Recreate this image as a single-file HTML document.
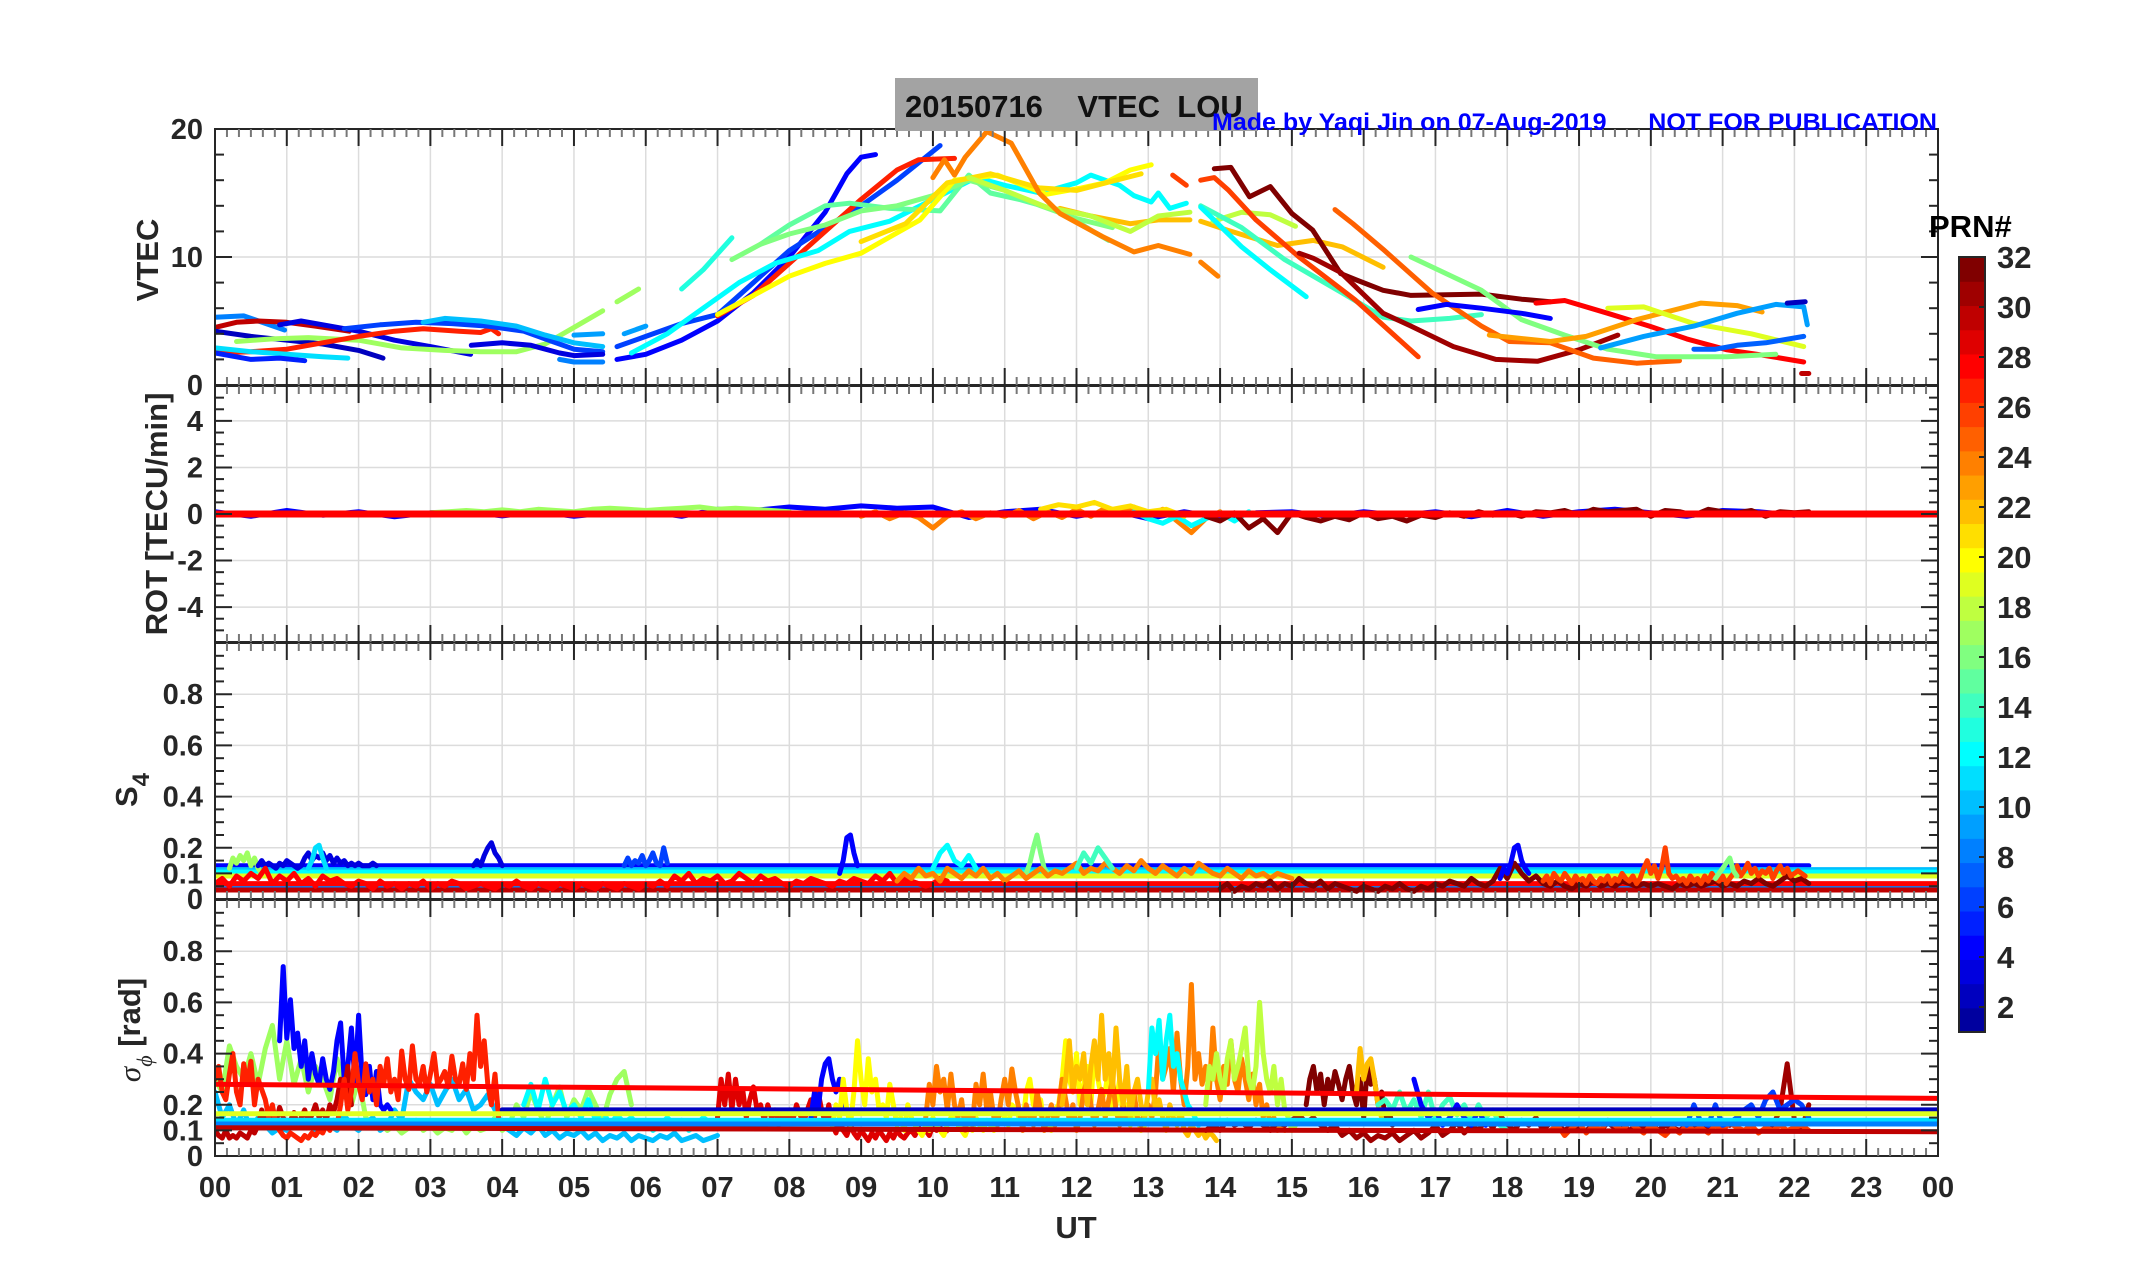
<!DOCTYPE html>
<html><head><meta charset="utf-8"><style>
html,body{margin:0;padding:0;background:#fff;}
svg{display:block;}
.tk{font-family:"Liberation Sans Narrow","Liberation Sans",sans-serif;font-weight:bold;font-size:29px;fill:#262626;}
.cb{font-family:"Liberation Sans",sans-serif;font-weight:bold;font-size:31px;fill:#262626;}
.al{font-family:"Liberation Sans",sans-serif;font-weight:bold;font-size:31px;fill:#262626;}
</style></head><body>
<svg id="fig" width="2153" height="1286" viewBox="0 0 2153 1286" xmlns="http://www.w3.org/2000/svg">
<rect width="2153" height="1286" fill="#fff"/>
<defs>
<clipPath id="cV"><rect x="215" y="129" width="1723" height="256"/></clipPath>
<clipPath id="cR"><rect x="215" y="386" width="1723" height="256"/></clipPath>
<clipPath id="cS"><rect x="215" y="643" width="1723" height="256"/></clipPath>
<clipPath id="cP"><rect x="215" y="900" width="1723" height="256"/></clipPath>
</defs>
<g id="grid"></g>
<g id="marks"></g>
<g id="axes"></g>
<rect x="895" y="78" width="363" height="53" fill="#a3a3a3"/>
<text x="905" y="117" font-family="Liberation Sans Narrow, Liberation Sans, sans-serif" font-weight="bold" font-size="31" fill="#111" xml:space="preserve">20150716    VTEC  LOU</text>
<text x="1212" y="130" font-family="Liberation Sans Narrow, Liberation Sans, sans-serif" font-weight="bold" font-size="24" fill="#0000ff" textLength="725" lengthAdjust="spacingAndGlyphs" xml:space="preserve">Made by Yaqi Jin on 07-Aug-2019      NOT FOR PUBLICATION</text>
<text class="al" transform="translate(158,260) rotate(-90)" text-anchor="middle">VTEC</text>
<text class="al" transform="translate(167,514) rotate(-90)" text-anchor="middle">ROT [TECU/min]</text>
<text class="al" transform="translate(137,790) rotate(-90)" text-anchor="middle">S<tspan font-size="24" dy="12">4</tspan></text>
<text class="al" transform="translate(140,1030) rotate(-90)" text-anchor="middle"><tspan font-family="Liberation Serif, serif" font-style="italic" font-weight="normal">σ</tspan><tspan font-family="Liberation Serif, serif" font-style="italic" font-weight="normal" font-size="22" dy="12">ϕ</tspan><tspan dy="-12"> [rad]</tspan></text>
<text class="al" x="1076" y="1238" text-anchor="middle">UT</text>
<text x="1929" y="237" font-family="Liberation Sans, sans-serif" font-weight="bold" font-size="31" fill="#000">PRN#</text>
<g id="cbar"></g>
</svg>
<script>
const NS='http://www.w3.org/2000/svg';
const X0=215,X1=1938;
function xS(h){return X0+h*(X1-X0)/24;}
function yV(v){return 385-v*12.8;}
function yR(v){return 514-v*23.27;}
function yS(v){return 899-v*256;}
function yP(v){return 1156-v*256;}
function jet(m){const n=Math.ceil(m/4);const u=[];for(let i=1;i<=n;i++)u.push(i/n);for(let i=1;i<n;i++)u.push(1);for(let i=n;i>=1;i--)u.push(i/n);
 const R=new Array(m).fill(0),G=new Array(m).fill(0),B=new Array(m).fill(0);const off=Math.ceil(n/2)-(m%4==1?1:0);
 for(let i=0;i<u.length;i++){const g=off+i+1,r=g+n,b=g-n;if(g<=m)G[g-1]=u[i];if(r<=m)R[r-1]=u[i];if(b>=1)B[b-1]=u[i];}
 const c=[];for(let i=0;i<m;i++)c.push('rgb('+Math.round(R[i]*255)+','+Math.round(G[i]*255)+','+Math.round(B[i]*255)+')');return c;}
const JET=jet(32);
function col(p){return JET[p-1];}
function mk(tag,attrs,parent){const e=document.createElementNS(NS,tag);for(const k in attrs)e.setAttribute(k,attrs[k]);parent.appendChild(e);return e;}

const vtecPrns=[8,30,3,2,17,17,27,11,5,6,10,3,8,9,9,4,6,27,12,13,15,16,20,21,22,22,18,18,24,24,14,12,26,26,32,28,31,25,16,4,23,19,9,7,30,2];
const vtecSeries=[
[[0,5.3],[0.4,5.4],[0.97,4.3]],
[[0,4.5],[0.3,4.9],[0.6,5.0],[1.0,4.9],[1.4,4.6],[1.87,4.2]],
[[0.9,4.7],[1.2,5.0],[1.6,4.6],[2.0,4.2],[2.5,3.5],[3.0,3.0],[3.56,2.4]],
[[0,4.2],[0.5,3.8],[1.0,3.5],[1.5,3.2],[2.0,2.7],[2.34,2.1]],
[[0.3,3.4],[0.8,3.6],[1.3,3.7],[2.0,3.5],[2.6,2.9],[3.2,2.7],[3.7,2.6],[4.2,2.6],[4.6,3.2],[5.0,4.5],[5.4,5.8]],
[[5.6,6.5],[5.9,7.5]],
[[0,2.5],[0.5,2.6],[1.0,2.8],[1.5,3.3],[2.0,3.8],[2.5,4.2],[2.9,4.4],[3.4,4.2],[3.7,4.1],[3.85,4.4],[3.95,4.0]],
[[0,2.9],[0.5,2.6],[1.0,2.4],[1.5,2.2],[1.85,2.1]],
[[0,2.5],[0.5,2.0],[0.9,2.1],[1.25,1.9]],
[[1.8,4.4],[2.3,4.7],[2.8,4.9],[3.3,4.8],[3.8,4.6],[4.3,4.2],[4.7,3.4],[5.0,2.8],[5.4,2.6]],
[[2.9,4.9],[3.2,5.2],[3.7,5.0],[4.2,4.6],[4.6,3.9],[5.0,3.3],[5.4,3.0]],
[[3.57,3.1],[4.0,3.3],[4.4,3.1],[4.8,2.5],[5.0,2.3],[5.4,2.4]],
[[4.8,2.0],[5.0,1.8],[5.4,1.8]],
[[5.0,3.9],[5.4,4.0]],
[[5.7,4.0],[6.0,4.6]],
[[5.6,2.0],[6.0,2.4],[6.5,3.5],[7.0,5.0],[7.5,7.2],[8.0,10.0],[8.5,13.5],[8.8,16.5],[9.0,17.8],[9.2,18.0]],
[[5.6,3.0],[6.0,3.8],[6.5,4.8],[7.0,5.5],[7.5,8],[8.0,10.5],[8.5,12.3],[9.0,14.0],[9.5,16.0],[10.1,18.7]],
[[7.0,5.4],[7.5,7.0],[8.0,9.5],[8.5,12.0],[9.0,14.5],[9.5,16.8],[9.8,17.6],[10.3,17.7]],
[[5.8,2.5],[6.3,4.0],[6.8,6.0],[7.3,8.0],[7.8,9.5],[8.4,10.5],[8.84,12.0],[9.4,12.8],[10.0,14.5],[10.6,16.2],[11.0,15.6],[11.5,15.0],[12.0,15.8],[12.2,16.4],[12.6,15.6],[12.8,14.8],[13.04,14.3],[13.14,15.0],[13.3,13.8],[13.53,14.2]],
[[6.5,7.5],[6.8,9.0],[7.2,11.5]],
[[7.6,11.0],[8.0,12.5],[8.5,14.0],[8.84,14.2],[9.4,13.8],[10.1,13.6],[10.5,16.4],[10.8,15.0],[11.2,14.5],[11.77,13.6],[12.26,11.9],[12.45,11.3]],
[[7.2,9.8],[7.6,11.0],[8.0,11.8],[8.5,12.5],[9.0,13.6],[9.5,14.0],[10.0,14.8],[10.5,16.0],[11.0,15.2],[11.5,14.0],[12.0,13.0],[12.5,12.3]],
[[7.0,5.5],[7.5,7.0],[8.0,8.5],[8.5,9.5],[9.0,10.3],[9.82,12.9],[10.3,16.0],[10.9,16.4],[11.58,14.9],[12.07,15.4],[12.4,15.8],[12.75,16.8],[13.04,17.2]],
[[9.0,11.2],[9.62,12.6],[10.2,15.8],[10.8,16.5],[11.48,15.4],[12.0,15.2],[12.55,16.0],[12.9,16.5]],
[[11.77,13.8],[12.2,13.2],[12.75,12.6],[13.14,12.9],[13.58,12.9]],
[[13.73,12.8],[14.1,12.1],[14.8,10.9],[15.3,11.3],[15.7,10.8],[16.27,9.2]],
[[10.5,16.2],[11.0,15.2],[11.58,13.9],[12.2,13.2],[12.75,12.0],[13.14,13.2],[13.58,13.5]],
[[13.9,12.8],[14.3,13.5],[14.7,13.3],[15.05,12.4]],
[[10.0,16.2],[10.16,17.6],[10.3,16.4],[10.45,17.8],[10.75,19.8],[11.09,18.9],[11.48,15.0],[11.77,13.4],[12.36,11.6],[12.8,10.4],[13.14,10.9],[13.58,10.2]],
[[13.73,9.6],[13.97,8.5]],
[[13.73,14.0],[14.3,12.3],[14.9,9.8],[15.7,7.2],[16.27,5.3],[16.66,5.0],[17.2,5.2],[17.64,5.5]],
[[13.73,13.9],[14.3,10.8],[14.7,9.0],[15.2,6.9]],
[[13.34,16.4],[13.53,15.6]],
[[13.73,16.0],[13.92,16.2],[14.12,15.2],[14.5,12.9],[15.1,10.0],[15.88,6.65],[16.76,2.2]],
[[13.92,16.9],[14.15,17.0],[14.41,14.7],[14.7,15.5],[15.0,13.4],[15.29,12.1],[15.68,8.7],[15.9,8.2],[16.27,7.4],[16.66,7.0],[17.64,7.1],[18.2,6.7],[18.6,6.5]],
[[18.4,6.4],[18.8,6.6],[19.4,5.6],[19.98,4.6],[20.5,3.6],[21.06,2.75],[21.6,2.3],[22.13,1.8]],
[[15.1,10.3],[15.3,9.9],[15.68,8.8],[16.27,5.6],[16.66,4.6],[17.25,3.0],[17.84,2.0],[18.42,1.85],[19.0,2.75],[19.54,3.9]],
[[15.6,13.7],[15.85,12.6],[16.27,10.6],[16.95,7.2],[17.64,4.6],[18.03,3.4],[18.6,3.3],[19.2,2.1],[19.8,1.7],[20.4,1.9]],
[[16.66,10.0],[17.15,8.7],[17.64,7.4],[18.2,5.1],[18.8,3.9],[19.4,2.8],[20.08,2.2],[21.06,2.2],[21.74,2.4]],
[[16.76,5.9],[17.15,6.3],[17.64,6.0],[18.2,5.6],[18.6,5.2]],
[[17.75,3.9],[18.6,3.4],[19.1,3.8],[19.8,5.1],[20.7,6.4],[21.2,6.2],[21.55,5.7]],
[[19.4,6.0],[19.9,6.1],[20.6,4.8],[21.4,4.0],[22.13,3.0]],
[[19.3,2.9],[19.9,3.8],[20.6,4.6],[21.2,5.6],[21.74,6.3],[22.13,6.1],[22.18,4.7]],
[[20.6,2.8],[20.9,2.8],[21.2,3.1],[21.6,3.3],[22.13,3.8]],
[[22.1,0.9],[22.2,0.9]],
[[21.9,6.4],[22.15,6.5]]
];

const rotFlatPrns=[28];
const rotFlatVals=[[0,0]];
const rotPrns=[4,17,24,12,21,32];
const rotStarts=[0,3,9,12.8,11.5,13.8];
const rotSteps=[0.5,0.25,0.2,0.2,0.25,0.2];
const rotVals=[
[0.1,-0.1,0.15,-0.05,0.1,-0.12,0.05,0.1,-0.08,0.1,-0.1,0.05,0.12,-0.1,0.2,0.15,0.3,0.2,0.35,0.25,0.3,-0.15,0.1,0.2,-0.1,0.15,-0.2,0.1,-0.15,0.05,0.1,-0.1,0.1,-0.05,0.1,-0.12,0.15,-0.1,0.1,0.2,0.05,-0.1,0.15,0.1,-0.05],
[0.05,0.1,0.15,0.1,0.18,0.1,0.2,0.15,0.1,0.2,0.25,0.2,0.15,0.2,0.25,0.3,0.2,0.25,0.2,0.15,0.1],
[-0.1,0.1,-0.2,0.05,-0.15,-0.6,-0.1,0.1,-0.2,0.05,-0.1,0.15,-0.2,0.1,-0.15,0.2,-0.1,0.25,0.1,0.3,-0.1,0.2,-0.3,-0.8,-0.2,0.1],
[0.1,-0.2,-0.4,-0.1,-0.5,-0.2,0.05,-0.3,0.1],
[0.2,0.4,0.3,0.5,0.2,0.35,0.1,0.2,-0.1],
[-0.1,-0.3,0.05,-0.6,-0.2,-0.8,0.05,-0.15,-0.3,-0.1,-0.25,0.05,-0.2,-0.1,-0.3,-0.05,-0.15,0.05,-0.1,0.1,-0.05,0.05,-0.1,0.1,0.05,0.15,-0.05,0.2,0.1,0.15,0.2,-0.1,0.15,0.1,-0.05,0.2,0.1,0.05,0.15,-0.1,0.1,0.05,0.1]
];

const s4FlatPrns=[4,10,12,19,8,28,30];
const s4FlatFrom=[0,0,0,0,0,0,0];
const s4FlatTo=[22.2,24,24,24,24,24,24];
const s4FlatVals=[0.13,0.115,0.105,0.09,0.045,0.06,0.035];
const s4Prns=[17,3,11,3,28,4,16,6,24,12,14,32,26,4,16];
const s4Starts=[0.2,0.6,1.3,3.6,0,8.7,11.3,5.7,9.5,10.0,12.0,14.0,18.5,17.9,20.9];
const s4Steps=[0.05,0.05,0.05,0.05,0.1,0.05,0.05,0.05,0.1,0.1,0.1,0.1,0.05,0.05,0.05];
const s4Vals=[
[0.12,0.16,0.14,0.17,0.15,0.18,0.13,0.16,0.12,0.1],
[0.13,0.15,0.13,0.14,0.13,0.12,0.14,0.13,0.15,0.14,0.13,0.12,0.13,0.16,0.18,0.15,0.17,0.16,0.18,0.15,0.17,0.14,0.16,0.14,0.15,0.13,0.14,0.13,0.14,0.13,0.13,0.13,0.14,0.13],
[0.12,0.15,0.2,0.21,0.16,0.12],
[0.13,0.15,0.13,0.17,0.2,0.22,0.18,0.16,0.13],
[0.06,0.08,0.05,0.09,0.07,0.1,0.08,0.12,0.06,0.09,0.07,0.1,0.06,0.08,0.05,0.09,0.07,0.08,0.06,0.05,0.07,0.06,0.04,0.07,0.05,0.06,0.04,0.06,0.05,0.07,0.04,0.06,0.05,0.07,0.06,0.04,0.05,0.06,0.05,0.04,0.06,0.05,0.07,0.05,0.04,0.06,0.05,0.04,0.06,0.05,0.04,0.06,0.05,0.04,0.06,0.05,0.04,0.06,0.05,0.04,0.06,0.05,0.07,0.05,0.09,0.07,0.1,0.06,0.08,0.07,0.09,0.06,0.07,0.1,0.08,0.06,0.09,0.07,0.08,0.06,0.05,0.07,0.06,0.08,0.07,0.06,0.05,0.07,0.06,0.08,0.07,0.06,0.09,0.07,0.1,0.06,0.08,0.07,0.06,0.05,0.06,0.08,0.07],
[0.1,0.15,0.24,0.25,0.18,0.13],
[0.1,0.14,0.2,0.25,0.18,0.12,0.1],
[0.13,0.16,0.13,0.15,0.14,0.17,0.13,0.15,0.18,0.14,0.13,0.2,0.14],
[0.07,0.1,0.08,0.12,0.09,0.1,0.07,0.12,0.1,0.08,0.11,0.09,0.12,0.08,0.1,0.07,0.09,0.11,0.08,0.1,0.12,0.09,0.11,0.1,0.12,0.14,0.1,0.12,0.11,0.14,0.12,0.1,0.13,0.11,0.15,0.12,0.1,0.13,0.11,0.09,0.12,0.1,0.14,0.12,0.1,0.09,0.12,0.1,0.08,0.11,0.09,0.1,0.08,0.1,0.09,0.08],
[0.12,0.18,0.21,0.15,0.13,0.17,0.12],
[0.12,0.18,0.14,0.2,0.16,0.12],
[0.04,0.06,0.03,0.05,0.04,0.06,0.05,0.07,0.04,0.06,0.05,0.08,0.06,0.05,0.07,0.04,0.06,0.05,0.04,0.03,0.05,0.04,0.03,0.05,0.04,0.06,0.04,0.03,0.05,0.04,0.06,0.05,0.07,0.06,0.05,0.08,0.06,0.05,0.07,0.12,0.08,0.14,0.1,0.07,0.09,0.06,0.05,0.07,0.05,0.04,0.06,0.05,0.07,0.05,0.06,0.05,0.07,0.06,0.05,0.06,0.05,0.06,0.05,0.04,0.06,0.05,0.06,0.05,0.06,0.07,0.05,0.06,0.05,0.07,0.06,0.08,0.06,0.05,0.07,0.09,0.07,0.08,0.06],
[0.07,0.09,0.06,0.1,0.08,0.07,0.1,0.08,0.06,0.09,0.07,0.08,0.06,0.09,0.07,0.06,0.08,0.07,0.09,0.06,0.08,0.07,0.1,0.08,0.07,0.09,0.06,0.08,0.12,0.15,0.1,0.13,0.08,0.12,0.2,0.1,0.08,0.09,0.07,0.08,0.06,0.09,0.07,0.08,0.06,0.09,0.07,0.1,0.08,0.07,0.09,0.06,0.08,0.1,0.13,0.09,0.11,0.14,0.1,0.12,0.09,0.11,0.1,0.12,0.08,0.11,0.13,0.1,0.12,0.09,0.1,0.11,0.1,0.09],
[0.08,0.12,0.1,0.14,0.2,0.21,0.15,0.12,0.1],
[0.08,0.1,0.12,0.14,0.16,0.11,0.09]
];

const sigFlatPrns=[2,19,11,8,30,28];
const sigFlatFrom=[4,0,0,0,0,0];
const sigFlatTo=[24,24,24,24,24,24];
const sigFlatStartVals=[0.18,0.165,0.14,0.125,0.11,0.28];
const sigFlatEndVals=[0.18,0.165,0.14,0.125,0.095,0.225];
const sigPrns=[10,17,4,30,12,29,4,20,24,22,12,18,32,31,22,14,4,26,6,27];
const sigStarts=[0,0,0.9,0,4.3,7.0,8.3,8.6,9.9,11.8,13.0,13.8,15.2,13.8,15.9,16.2,16.7,18.6,20.5,0];
const sigSteps=[0.1,0.1,0.05,0.05,0.1,0.05,0.05,0.05,0.05,0.05,0.05,0.05,0.05,0.1,0.05,0.1,0.1,0.1,0.1,0.05];
const sigVals=[
[0.25,0.15,0.2,0.12,0.18,0.1,0.15,0.12,0.09,0.11,0.1,0.14,0.12,0.15,0.1,0.13,0.12,0.1,0.16,0.12,0.1,0.13,0.15,0.1,0.12,0.18,0.14,0.3,0.25,0.22,0.28,0.2,0.25,0.3,0.22,0.26,0.18,0.2,0.24,0.18,0.12,0.1,0.08,0.11,0.09,0.12,0.08,0.1,0.07,0.09,0.08,0.1,0.07,0.09,0.06,0.08,0.07,0.09,0.06,0.08,0.07,0.06,0.08,0.07,0.09,0.06,0.07,0.08,0.06,0.07,0.08],
[0.3,0.25,0.43,0.35,0.3,0.4,0.28,0.42,0.51,0.3,0.45,0.28,0.38,0.25,0.35,0.3,0.22,0.38,0.26,0.2,0.3,0.15,0.12,0.13,0.1,0.12,0.09,0.11,0.14,0.1,0.12,0.09,0.11,0.1,0.13,0.09,0.12,0.1,0.11,0.15,0.1,0.12,0.2,0.15,0.25,0.18,0.12,0.2,0.27,0.15,0.22,0.18,0.26,0.2,0.14,0.24,0.3,0.33,0.2],
[0.45,0.74,0.46,0.61,0.42,0.48,0.35,0.45,0.3,0.4,0.32,0.28,0.38,0.3,0.26,0.33,0.45,0.52,0.3,0.35,0.5,0.28,0.55,0.3,0.24,0.35,0.22,0.33,0.2,0.18,0.2,0.18],
[0.1,0.08,0.07,0.1,0.07,0.08,0.07,0.09,0.08,0.07,0.1,0.09,0.12,0.18,0.14,0.12,0.16,0.13,0.19,0.15,0.12,0.14,0.17,0.12,0.15,0.18,0.13,0.16,0.2,0.15,0.18,0.14,0.2,0.17,0.22,0.3,0.25,0.35,0.2],
[0.2,0.28,0.18,0.3,0.2,0.25,0.17,0.2,0.15,0.22,0.14,0.18,0.12,0.16,0.13,0.15,0.12,0.14,0.1,0.12,0.15,0.12,0.14,0.1,0.12,0.15,0.13],
[0.15,0.3,0.2,0.32,0.18,0.3,0.2,0.26,0.15,0.22,0.27,0.18,0.2,0.14,0.2,0.15,0.18,0.12,0.16,0.13,0.18,0.14,0.2,0.16,0.13,0.18,0.22,0.15,0.25,0.18,0.13,0.2,0.12,0.09,0.14,0.1,0.08,0.12,0.09,0.07,0.1,0.08,0.06,0.09,0.07,0.1,0.08,0.06,0.09,0.07,0.1,0.08,0.07,0.09,0.1,0.08,0.11,0.09,0.1,0.08,0.12,0.1,0.11,0.09,0.1],
[0.15,0.25,0.18,0.3,0.36,0.38,0.3,0.25,0.3,0.22,0.18,0.15],
[0.12,0.2,0.15,0.3,0.18,0.12,0.25,0.45,0.3,0.2,0.38,0.25,0.3,0.18,0.2,0.15,0.28,0.2,0.12,0.15,0.1,0.2,0.15,0.12,0.1,0.08,0.12,0.1,0.15,0.12,0.1,0.08,0.12,0.15,0.18,0.12,0.1,0.08,0.12,0.1,0.15,0.12,0.1,0.14,0.12,0.1,0.14,0.18,0.15,0.12,0.2,0.18,0.15,0.12,0.25,0.3,0.2,0.18,0.22,0.12,0.15,0.1,0.18,0.2,0.3,0.45,0.3,0.25,0.4,0.2,0.28,0.35,0.2,0.42,0.3,0.22,0.25,0.35,0.18,0.2,0.3,0.15,0.2,0.12,0.18,0.15,0.1,0.12],
[0.15,0.28,0.2,0.35,0.25,0.3,0.18,0.32,0.2,0.15,0.22,0.1,0.18,0.12,0.28,0.2,0.32,0.18,0.25,0.15,0.12,0.22,0.3,0.2,0.34,0.25,0.18,0.1,0.2,0.15,0.12,0.25,0.18,0.1,0.15,0.2,0.12,0.18,0.3,0.22,0.14,0.2,0.1,0.15,0.25,0.3,0.2,0.12,0.18,0.26,0.15,0.22,0.3,0.18,0.12,0.2,0.14,0.18,0.25,0.15,0.12,0.18,0.2,0.15,0.25,0.45,0.3,0.35,0.42,0.25,0.48,0.3,0.2,0.35,0.67,0.3,0.4,0.28,0.35,0.25,0.5,0.3,0.22,0.35,0.28,0.45,0.3,0.25,0.38,0.3,0.22,0.32,0.2,0.28,0.15,0.2,0.12,0.15,0.1,0.12,0.1],
[0.2,0.3,0.45,0.25,0.35,0.3,0.4,0.2,0.35,0.45,0.3,0.55,0.3,0.4,0.25,0.5,0.3,0.2,0.35,0.15,0.25,0.3,0.2,0.15,0.25,0.3,0.18,0.22,0.15,0.1,0.2,0.15,0.12,0.18,0.1,0.08,0.12,0.1,0.08,0.1,0.07,0.09,0.08,0.06],
[0.25,0.5,0.4,0.53,0.3,0.45,0.55,0.35,0.4,0.3,0.25,0.2,0.18,0.15,0.12],
[0.2,0.35,0.3,0.4,0.3,0.25,0.38,0.45,0.3,0.35,0.42,0.5,0.3,0.25,0.35,0.6,0.4,0.3,0.25,0.35,0.2,0.3,0.18,0.15,0.1,0.12],
[0.2,0.3,0.35,0.25,0.32,0.2,0.3,0.25,0.33,0.28,0.22,0.3,0.35,0.25,0.2,0.3,0.15,0.35,0.28,0.3,0.2,0.25,0.15,0.18,0.12],
[0.1,0.12,0.1,0.14,0.12,0.13,0.11,0.14,0.12,0.1,0.13,0.12,0.14,0.16,0.13,0.15,0.12,0.1,0.12,0.08,0.1,0.07,0.09,0.06,0.08,0.07,0.09,0.06,0.08,0.1,0.07,0.09,0.12,0.08,0.1,0.13,0.09,0.12,0.1,0.14,0.11,0.16,0.12,0.1,0.14,0.12,0.15,0.1,0.13,0.12,0.1,0.12,0.11,0.1,0.12,0.1,0.13,0.11,0.12,0.1,0.12,0.11,0.13,0.1,0.12,0.11,0.1,0.12,0.11,0.13,0.1,0.12,0.14,0.12,0.15,0.13,0.12,0.14,0.13,0.12,0.18,0.36,0.14,0.1,0.2],
[0.25,0.42,0.3,0.36,0.38,0.3,0.2,0.15],
[0.2,0.22,0.18,0.25,0.17,0.22,0.15,0.25,0.14,0.2,0.23,0.16,0.2,0.14,0.2,0.15,0.18,0.12,0.1],
[0.3,0.2,0.15,0.18,0.12,0.15,0.2,0.15,0.12,0.18,0.12],
[0.1,0.12,0.08,0.11,0.13,0.09,0.12,0.1,0.14,0.12,0.1,0.13,0.11,0.09,0.12,0.1,0.08,0.11,0.09,0.12,0.1,0.11,0.09,0.12,0.1,0.13,0.11,0.1,0.12,0.09,0.11,0.1,0.12,0.1,0.11,0.12,0.1],
[0.12,0.2,0.13,0.12,0.2,0.12,0.13,0.15,0.18,0.2,0.15,0.22,0.25,0.18,0.2,0.22,0.2,0.15],
[0.3,0.35,0.25,0.22,0.32,0.4,0.25,0.2,0.36,0.28,0.37,0.2,0.3,0.26,0.22,0.15,0.2,0.12,0.1,0.08,0.07,0.09,0.08,0.07,0.06,0.08,0.07,0.09,0.08,0.1,0.09,0.12,0.1,0.14,0.12,0.2,0.3,0.18,0.25,0.4,0.28,0.22,0.36,0.25,0.3,0.2,0.35,0.28,0.38,0.25,0.3,0.22,0.41,0.3,0.26,0.43,0.3,0.28,0.35,0.25,0.32,0.4,0.28,0.3,0.33,0.27,0.39,0.3,0.28,0.36,0.26,0.4,0.3,0.55,0.35,0.45,0.28,0.2,0.32,0.15]
];

const xTickLabels=['00','01','02','03','04','05','06','07','08','09','10','11','12','13','14','15','16','17','18','19','20','21','22','23','00'];
const vtecTicks=[0,10,20];
const rotTicks=[-4,-2,0,2,4];
const s4Ticks=[0,0.1,0.2,0.4,0.6,0.8];
const sigTicks=[0,0.1,0.2,0.4,0.6,0.8];
const cbTicks=[2,4,6,8,10,12,14,16,18,20,22,24,26,28,30,32];

const grid=document.getElementById('grid'),marks=document.getElementById('marks'),axes=document.getElementById('axes');
const panels=[
 {name:'vtec',top:129,bot:385,y:yV,ticks:vtecTicks,minor:2,min:0,max:20,clip:'cV',lab:v=>String(v)},
 {name:'rot',top:386,bot:642,y:yR,ticks:rotTicks,minor:0.5,min:-5.5,max:5.5,clip:'cR',lab:v=>String(v)},
 {name:'s4',top:643,bot:899,y:yS,ticks:s4Ticks,minor:0.05,min:0,max:1,clip:'cS',lab:v=>String(v)},
 {name:'sigma',top:900,bot:1156,y:yP,ticks:sigTicks,minor:0.05,min:0,max:1,clip:'cP',lab:v=>String(v)}
];
panels.forEach(p=>{
 const g=mk('g',{},grid);
 
 
 for(let h=1;h<24;h++)mk('line',{x1:xS(h),x2:xS(h),y1:p.top,y2:p.bot,stroke:'#dcdcdc','stroke-width':1.5},g);
 p.ticks.forEach(v=>{if(v>p.min&&v<p.max)mk('line',{x1:X0,x2:X1,y1:p.y(v),y2:p.y(v),stroke:'#dcdcdc','stroke-width':1.5},g);});
 const a=mk('g',{},axes);
 
 
 mk('rect',{x:X0,y:p.top,width:X1-X0,height:p.bot-p.top,fill:'none',stroke:'#262626','stroke-width':2},a);
 for(let i=0;i<=144;i++){const h=i/6,x=xS(h),L=(i%6==0)?17:8,c=(i%6==0)?'#262626':'#777';
  mk('line',{x1:x,x2:x,y1:p.top,y2:p.top+L,stroke:c,'stroke-width':2},a);
  mk('line',{x1:x,x2:x,y1:p.bot,y2:p.bot-L,stroke:c,'stroke-width':2},a);}
 for(let v=p.min;v<=p.max+1e-9;v+=p.minor){const y=p.y(v);if(y<p.top-0.5||y>p.bot+0.5)continue;
  const maj=p.ticks.some(t=>Math.abs(t-v)<1e-6);const L=maj?17:9;
  mk('line',{x1:X0,x2:X0+L,y1:y,y2:y,stroke:'#262626','stroke-width':2},a);
  mk('line',{x1:X1,x2:X1-L,y1:y,y2:y,stroke:'#262626','stroke-width':2},a);}
 p.ticks.forEach(v=>{const t=mk('text',{x:203,y:p.y(v)+10,'text-anchor':'end',class:'tk'},a);t.textContent=p.lab(v);
  
  });
});
xTickLabels.forEach((s,i)=>{const t=mk('text',{x:xS(i),y:1197,'text-anchor':'middle',class:'tk'},axes);t.textContent=s;
 
 });

function poly(pts,p,clip,w,parent){const d=pts.map(q=>q[0].toFixed(1)+','+q[1].toFixed(1)).join(' ');
 const e=mk('polyline',{points:d,fill:'none',stroke:col(p),'stroke-width':w,'stroke-linejoin':'round','stroke-linecap':'round','clip-path':'url(#'+clip+')'},parent);return e;}

const gV=mk('g',{},marks);


vtecSeries.forEach((s,i)=>{const e=poly(s.map(q=>[xS(q[0]),yV(q[1])]),vtecPrns[i],'cV',5,gV);
 
 });

function noisy(prns,starts,steps,vals,yf,clip,w,parent,nm){
 vals.forEach((arr,i)=>{const pts=arr.map((v,j)=>[xS(starts[i]+j*steps[i]),yf(v)]);const e=poly(pts,prns[i],clip,w,parent);
  
  });}
const gR=mk('g',{},marks);


noisy(rotPrns,rotStarts,rotSteps,rotVals,yR,'cR',5,gR,'rot-line');
rotFlatPrns.forEach((p,i)=>{const e=poly([[xS(0),yR(rotFlatVals[i][0])],[xS(24),yR(rotFlatVals[i][1])]],p,'cR',7,gR);
 
 });
const gS=mk('g',{},marks);


s4FlatPrns.forEach((p,i)=>{const e=poly([[xS(s4FlatFrom[i]),yS(s4FlatVals[i])],[xS(s4FlatTo[i]),yS(s4FlatVals[i])]],p,'cS',5,gS);
 
 });
noisy(s4Prns,s4Starts,s4Steps,s4Vals,yS,'cS',5,gS,'s4-line');
const gP=mk('g',{},marks);


noisy(sigPrns,sigStarts,sigSteps,sigVals,yP,'cP',5,gP,'sigma-line');
sigFlatPrns.forEach((p,i)=>{const e=poly([[xS(sigFlatFrom[i]),yP(sigFlatStartVals[i])],[xS(sigFlatTo[i]),yP(sigFlatEndVals[i])]],p,'cP',5,gP);
 
 });

const cb=document.getElementById('cbar');
const CT=257,CB=1032,CX=1959,CW=26,bh=(CB-CT)/32;
for(let k=1;k<=32;k++){const r=mk('rect',{x:CX,y:CB-k*bh,width:CW,height:bh+0.6,fill:col(k)},cb);
 
 }
mk('rect',{x:CX,y:CT,width:CW,height:CB-CT,fill:'none',stroke:'#262626','stroke-width':2},cb);
function yCB(k){return CT+(32-k)*(CB-CT)/31;}
cbTicks.forEach(k=>{const y=yCB(k);mk('line',{x1:CX+CW-6,x2:CX+CW,y1:y,y2:y,stroke:'#262626','stroke-width':2},cb);
 const t=mk('text',{x:1997,y:y+11,class:'cb'},cb);t.textContent=String(k);
 
 });
</script>
</body></html>
